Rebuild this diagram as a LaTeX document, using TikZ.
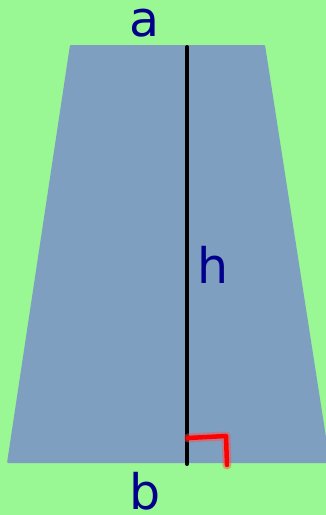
\documentclass[tikz,border=0pt]{standalone}
\usepackage{fontspec}
\setmainfont{DejaVu Sans}
\definecolor{bggreen}{HTML}{99F794}
\definecolor{trapblue}{HTML}{7F9FC0}
\definecolor{labelblue}{HTML}{00008C}
\tikzset{
  lbl/.style={text=labelblue, font=\fontsize{49}{49}\selectfont, anchor=base, inner sep=0pt},
  glow/.style={red!70, opacity=0.45, line width=9pt, line cap=round, line join=round},
  anglemark/.style={red, line width=4.5pt, line cap=round, line join=round},
}
\begin{document}
\begin{tikzpicture}[x=1pt,y=-1pt]
  \useasboundingbox (0,0) rectangle (326,515);
  \fill[bggreen] (0,0) rectangle (326,515);
  \fill[trapblue, rounded corners=1pt] (70,45) -- (265,45) -- (330,463) -- (7,463) -- cycle;
  \coordinate (top) at (187,47);
  \coordinate (foot) at (187,464);
  \coordinate (c1) at (188,438);
  \coordinate (c2) at (226,436);
  \coordinate (c3) at (227,465);
  \draw[line width=4pt, line cap=round] (top) -- (foot);
  % right angle
  \draw[glow] (c1) -- (c2) -- (c3);
  \draw[anglemark] (c1) -- (c2) -- (c3);
  \node[lbl] (a) at (145,36) {a};
  \node[lbl] (h) at (213,283) {h};
  \node[lbl] (b) at (145,509) {b};
\end{tikzpicture}
\end{document}
